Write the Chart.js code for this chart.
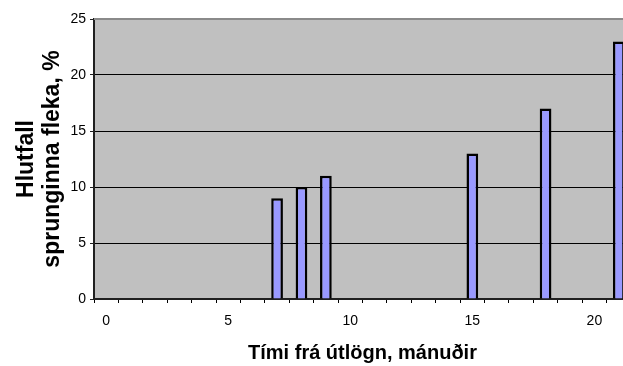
<!DOCTYPE html>
<html>
<head>
<meta charset="utf-8">
<script src="https://cdn.jsdelivr.net/npm/chart.js@4/dist/chart.umd.min.js"></script>
<style>
  html, body { margin: 0; padding: 0; background: #ffffff; overflow: hidden; width: 623px; height: 366px; }
  canvas { display: block; }
</style>
</head>
<body>
<canvas id="c" width="660" height="366"></canvas>
<script>
// Months since laying (category axis) and share of cracked slabs, %
const months = ['0','1','2','3','4','5','6','7','8','9','10','11','12','13','14','15','16','17','18','19','20','21'];
const crackedShare = [null,null,null,null,null,null,null,9,10,11,null,null,null,null,null,13,null,null,17,null,null,23];
const yTicks = [0, 5, 10, 15, 20, 25];

const FONT = "'Liberation Sans', Arial, sans-serif";

// Grey plot-area background and its top border
const plotArea = {
  id: 'plotArea',
  beforeDraw(chart) {
    const {ctx, chartArea: a} = chart;
    ctx.save();
    ctx.fillStyle = '#c0c0c0';
    ctx.fillRect(a.left, a.top, a.right - a.left, a.bottom - a.top);
    ctx.restore();
  },
  afterDraw(chart) {
    const {ctx, chartArea: a} = chart;
    ctx.save();
    ctx.strokeStyle = '#8a8a8a';
    ctx.lineWidth = 2;
    ctx.beginPath();
    ctx.moveTo(a.left, a.top);
    ctx.lineTo(a.right, a.top);
    ctx.stroke();
    ctx.restore();
  }
};

new Chart(document.getElementById('c'), {
  type: 'bar',
  data: {
    labels: months,
    datasets: [{
      data: crackedShare,
      backgroundColor: '#9999ff',
      borderColor: '#000000',
      borderWidth: 2.5,
      categoryPercentage: 1,
      barPercentage: 0.48
    }]
  },
  options: {
    responsive: false,
    animation: false,
    layout: { padding: { top: 19, right: 29, left: 0, bottom: 0 } },
    plugins: { legend: { display: false }, tooltip: { enabled: false } },
    scales: {
      x: {
        type: 'category',
        offset: true,
        afterFit(scale) { scale.height = 67; },
        grid: {
          offset: true,
          drawOnChartArea: false,
          drawTicks: true,
          tickLength: 4,
          tickColor: '#000000'
        },
        border: { display: true, color: '#202020', width: 2 },
        ticks: {
          autoSkip: false,
          maxRotation: 0,
          padding: 10,
          color: '#000000',
          font: { family: FONT, size: 14 },
          callback(value, index) {
            const m = Number(months[index]);
            return m % 5 === 0 ? months[index] : '';
          }
        },
        title: {
          display: true,
          text: 'Tími frá útlögn, mánuðir',
          color: '#000000',
          font: { family: FONT, size: 20, weight: 'bold' },
          padding: { top: 0, bottom: 1 }
        }
      },
      y: {
        min: 0,
        max: 25,
        afterFit(scale) { scale.width = 94; },
        afterBuildTicks(scale) { scale.ticks = yTicks.map(v => ({ value: v })); },
        grid: {
          color: ctx => (ctx.tick && ctx.tick.value === 25) ? 'rgba(0,0,0,0)' : '#000000',
          lineWidth: 1,
          tickLength: 4,
          tickColor: '#202020'
        },
        border: { display: true, color: '#202020', width: 2 },
        ticks: {
          padding: 4,
          color: '#000000',
          font: { family: FONT, size: 14 }
        },
        title: {
          display: true,
          text: ['Hlutfall', 'sprunginna fleka, %'],
          color: '#000000',
          font: { family: FONT, size: 23, weight: 'bold', lineHeight: 1.11 },
          padding: { top: 14, bottom: 0 }
        }
      }
    }
  },
  plugins: [plotArea]
});
</script>
</body>
</html>
